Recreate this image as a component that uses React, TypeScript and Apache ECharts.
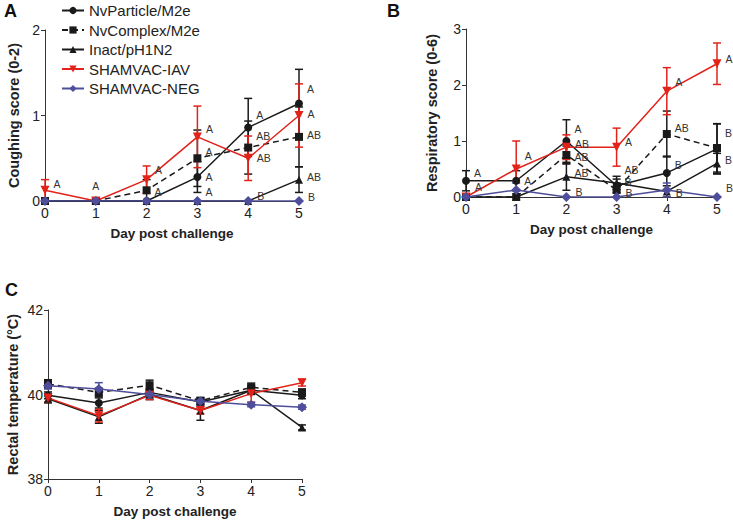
import React, { useEffect, useRef } from "react";
import * as echarts from "echarts";

const days = [0, 1, 2, 3, 4, 5];
const groupNames = ["NvParticle/M2e", "NvComplex/M2e", "Inact/pH1N2", "SHAMVAC-IAV", "SHAMVAC-NEG"];

// Panel A: coughing score (0-2)
const coughNvParticle = [0, 0, 0, 0.28, 0.86, 1.14];
const coughNvComplex = [0, 0, 0.125, 0.5, 0.625, 0.75];
const coughInact = [0, 0, 0, 0, 0, 0.25];
const coughShamIav = [0.125, 0, 0.25, 0.75, 0.5, 1.0];
const coughShamNeg = [0, 0, 0, 0, 0, 0];
const coughErrNvParticle = [0, 0, 0, 0.18, 0.34, 0.4];
const coughErrNvComplex = [0, 0, 0.125, 0.33, 0.31, 0.35];
const coughErrInact = [0, 0, 0, 0, 0, 0.15];
const coughErrShamIav = [0.125, 0, 0.16, 0.36, 0.26, 0.37];
const coughErrShamNeg = [0, 0, 0, 0, 0, 0];
const coughLetNvParticle = ["", "", "", "A", "A", "A"];
const coughLetNvComplex = ["", "", "A", "A", "AB", "AB"];
const coughLetInact = ["", "", "", "A", "", "AB"];
const coughLetShamIav = ["A", "A", "A", "A", "AB", "A"];
const coughLetShamNeg = ["", "", "", "", "B", "B"];

// Panel B: respiratory score (0-6)
const respNvParticle = [0.29, 0.29, 1.0, 0.2, 0.43, 0.86];
const respNvComplex = [0, 0, 0.75, 0.125, 1.125, 0.875];
const respInact = [0, 0, 0.36, 0.25, 0.1, 0.6];
const respShamIav = [0, 0.5, 0.89, 0.89, 1.89, 2.38];
const respShamNeg = [0, 0.125, 0, 0, 0.125, 0];
const respErrNvParticle = [0.18, 0.18, 0.38, 0.12, 0.3, 0.45];
const respErrNvComplex = [0, 0, 0.16, 0.125, 0.41, 0.43];
const respErrInact = [0, 0, 0.24, 0.12, 0.1, 0.18];
const respErrShamIav = [0, 0.5, 0.22, 0.34, 0.42, 0.37];
const respErrShamNeg = [0, 0.125, 0, 0, 0.125, 0];
const respLetNvParticle = ["A", "A", "A", "AB", "B", ""];
const respLetNvComplex = ["", "", "AB", "B", "AB", "B"];
const respLetInact = ["", "", "AB", "", "", "B"];
const respLetShamIav = ["", "A", "AB", "A", "A", "A"];
const respLetShamNeg = ["A", "", "B", "B", "B", "B"];

// Panel C: rectal temperature (°C)
const tempNvParticle = [39.98, 39.8, 40.05, 39.82, 40.1, 39.98];
const tempNvComplex = [40.25, 40.05, 40.22, 39.85, 40.17, 40.05];
const tempInact = [39.9, 39.47, 40.0, 39.62, 40.1, 39.22];
const tempShamIav = [39.92, 39.5, 39.98, 39.62, 40.02, 40.28];
const tempShamNeg = [40.21, 40.13, 40.0, 39.84, 39.76, 39.7];
const tempErrNvParticle = [0.08, 0.12, 0.08, 0.08, 0.08, 0.08];
const tempErrNvComplex = [0.1, 0.1, 0.12, 0.08, 0.1, 0.08];
const tempErrInact = [0.1, 0.15, 0.12, 0.23, 0.1, 0.06];
const tempErrShamIav = [0.1, 0.15, 0.1, 0.08, 0.2, 0.08];
const tempErrShamNeg = [0.08, 0.15, 0.08, 0.08, 0.05, 0.05];

const FONT = "'Liberation Sans', Arial, Helvetica, sans-serif";
const BLACK = "#1a1a1a";
const RED = "#e2231a";
const BLUE = "#4e4e9c";

const styles = [
  { color: BLACK, symbol: "circle", size: 8, rotate: 0, dash: "solid" as any },
  { color: BLACK, symbol: "rect", size: 8, rotate: 0, dash: [6, 4] as any },
  { color: BLACK, symbol: "triangle", size: 8, rotate: 0, dash: "solid" as any },
  { color: RED, symbol: "triangle", size: 9, rotate: 180, dash: "solid" as any },
  { color: BLUE, symbol: "diamond", size: 10, rotate: 0, dash: "solid" as any },
];

// vertical nudges (px) of the significance letters, keyed panel-group-day (styling only)
const letterNudge: Record<string, number> = {
  "0-3-0": -6, "0-3-2": -10, "0-1-2": 2,
  "0-3-3": -8, "0-1-3": -6, "0-0-3": 0, "0-2-3": -9,
  "0-0-4": -12, "0-1-4": -12, "0-3-4": 0, "0-4-4": -5,
  "0-0-5": -15, "0-3-5": -2, "0-1-5": -2, "0-2-5": -3, "0-4-5": -4,
  "1-0-0": -8, "1-4-0": -10,
  "1-3-1": -13, "1-0-1": 0,
  "1-0-2": -12, "1-3-2": -3, "1-1-2": 2, "1-2-2": -4, "1-4-2": -5,
  "1-0-3": -16, "1-1-3": -8, "1-4-3": -4,
  "1-3-4": -9, "1-1-4": -6, "1-0-4": -8, "1-4-4": 3,
  "1-3-5": -5, "1-1-5": -15, "1-2-5": -3, "1-4-5": -9,
};

function errSeries(panel: number, gi: number, vals: number[], errs: number[]) {
  const color = styles[gi].color;
  return {
    type: "custom",
    name: groupNames[gi] + " SEM " + panel,
    xAxisIndex: panel,
    yAxisIndex: panel,
    silent: true,
    encode: { x: 0, y: [1, 2] },
    data: days.map((d, i) => [d, vals[i] - errs[i], vals[i] + errs[i]]),
    renderItem: (params: any, api: any) => {
      const x = api.value(0);
      const lo = api.value(1);
      const hi = api.value(2);
      if (hi - lo <= 0) return null;
      const t = api.coord([x, hi]);
      const b = api.coord([x, lo]);
      const w = 4;
      const st = { stroke: color, lineWidth: 1.5 };
      return {
        type: "group",
        children: [
          { type: "line", shape: { x1: t[0], y1: t[1], x2: b[0], y2: b[1] }, style: st },
          { type: "line", shape: { x1: t[0] - w, y1: t[1], x2: t[0] + w, y2: t[1] }, style: st },
          { type: "line", shape: { x1: b[0] - w, y1: b[1], x2: b[0] + w, y2: b[1] }, style: st },
        ],
      };
    },
  };
}

function lineSeries(panel: number, gi: number, vals: number[], letters?: string[]) {
  const s = styles[gi];
  return {
    type: "line",
    name: groupNames[gi],
    xAxisIndex: panel,
    yAxisIndex: panel,
    symbol: s.symbol,
    symbolSize: s.size,
    symbolRotate: s.rotate,
    showAllSymbol: true,
    color: s.color,
    itemStyle: { color: s.color },
    lineStyle: { color: s.color, width: 1.5, type: s.dash },
    data: days.map((d, i) => {
      const letter = letters ? letters[i] : "";
      const item: any = { value: [d, vals[i]] };
      if (letter) {
        const above = panel === 0 && gi === 3 && d === 1;
        const key = panel + "-" + gi + "-" + d;
        const dy = key in letterNudge ? letterNudge[key] : -5;
        item.label = {
          show: true,
          formatter: letter,
          position: above ? "top" : "right",
          distance: above ? 5 : 4,
          offset: above ? [0, 0] : [0, dy],
          fontSize: 10.5,
          color: "#333",
          fontFamily: FONT,
        };
      }
      return item;
    }),
  };
}

const axisCommon = {
  axisLine: { show: true, lineStyle: { color: "#333", width: 1 } },
  axisTick: { show: true, length: 4, lineStyle: { color: "#333", width: 1 } },
  axisLabel: { color: "#222", fontSize: 14, fontFamily: FONT, margin: 5 },
  splitLine: { show: false },
};

const nameStyle = { color: "#222", fontSize: 14, fontWeight: "bold", fontFamily: FONT };

function xAxis(gridIndex: number) {
  return {
    type: "value",
    gridIndex,
    min: 0,
    max: 5,
    interval: 1,
    name: "Day post challenge",
    nameLocation: "middle",
    nameGap: 25,
    nameTextStyle: { ...nameStyle, fontSize: 13.5 },
    ...axisCommon,
  };
}

function yAxis(gridIndex: number, min: number, max: number, interval: number, name: string, gap: number) {
  return {
    type: "value",
    gridIndex,
    min,
    max,
    interval,
    name,
    nameLocation: "middle",
    nameGap: gap,
    nameTextStyle: { ...nameStyle, fontSize: 14.5 },
    ...axisCommon,
  };
}

export default function App() {
  const ref = useRef<HTMLDivElement>(null);
  useEffect(() => {
    if (!ref.current) return;
    const chart = echarts.init(ref.current, null, { renderer: "svg" });

    const cough = [coughNvParticle, coughNvComplex, coughInact, coughShamIav, coughShamNeg];
    const coughErr = [coughErrNvParticle, coughErrNvComplex, coughErrInact, coughErrShamIav, coughErrShamNeg];
    const coughLet = [coughLetNvParticle, coughLetNvComplex, coughLetInact, coughLetShamIav, coughLetShamNeg];
    const resp = [respNvParticle, respNvComplex, respInact, respShamIav, respShamNeg];
    const respErr = [respErrNvParticle, respErrNvComplex, respErrInact, respErrShamIav, respErrShamNeg];
    const respLet = [respLetNvParticle, respLetNvComplex, respLetInact, respLetShamIav, respLetShamNeg];
    const temp = [tempNvParticle, tempNvComplex, tempInact, tempShamIav, tempShamNeg];
    const tempErr = [tempErrNvParticle, tempErrNvComplex, tempErrInact, tempErrShamIav, tempErrShamNeg];

    const series: any[] = [];
    for (let gi = 0; gi < 5; gi++) {
      series.push(lineSeries(0, gi, cough[gi], coughLet[gi]));
      series.push(errSeries(0, gi, cough[gi], coughErr[gi]));
    }
    for (let gi = 0; gi < 5; gi++) {
      series.push(lineSeries(1, gi, resp[gi], respLet[gi]));
      series.push(errSeries(1, gi, resp[gi], respErr[gi]));
    }
    for (let gi = 0; gi < 5; gi++) {
      series.push(lineSeries(2, gi, temp[gi]));
      series.push(errSeries(2, gi, temp[gi], tempErr[gi]));
    }

    chart.setOption({
      animation: false,
      backgroundColor: "#ffffff",
      textStyle: { fontFamily: FONT },
      grid: [
        { left: 45, top: 30, width: 254, height: 171 },
        { left: 466, top: 29, width: 251, height: 168 },
        { left: 48, top: 310, width: 254, height: 169 },
      ],
      xAxis: [xAxis(0), xAxis(1), xAxis(2)],
      yAxis: [
        yAxis(0, 0, 2, 1, "Coughing score (0-2)", 24),
        yAxis(1, 0, 3, 1, "Respiratory score (0-6)", 27),
        yAxis(2, 38, 42, 2, "Rectal temperature (°C)", 28),
      ],
      legend: {
        data: groupNames,
        orient: "vertical",
        left: 61,
        top: 3,
        padding: 0,
        itemWidth: 22,
        itemHeight: 9,
        itemGap: 4.5,
        selectedMode: false,
        textStyle: { fontSize: 15, color: "#222", fontFamily: FONT, lineHeight: 15 },
      },
      graphic: [
        { type: "text", left: 4, top: 2, style: { text: "A", fontSize: 18, fontWeight: "bold", fill: "#111", fontFamily: FONT } },
        { type: "text", left: 387, top: 2, style: { text: "B", fontSize: 18, fontWeight: "bold", fill: "#111", fontFamily: FONT } },
        { type: "text", left: 5, top: 281, style: { text: "C", fontSize: 18, fontWeight: "bold", fill: "#111", fontFamily: FONT } },
      ],
      series,
    });
    return () => chart.dispose();
  }, []);
  return (
    <div
      ref={ref}
      style={{ position: "absolute", left: 0, top: 0, width: 733, height: 524, background: "#fff" }}
    />
  );
}
